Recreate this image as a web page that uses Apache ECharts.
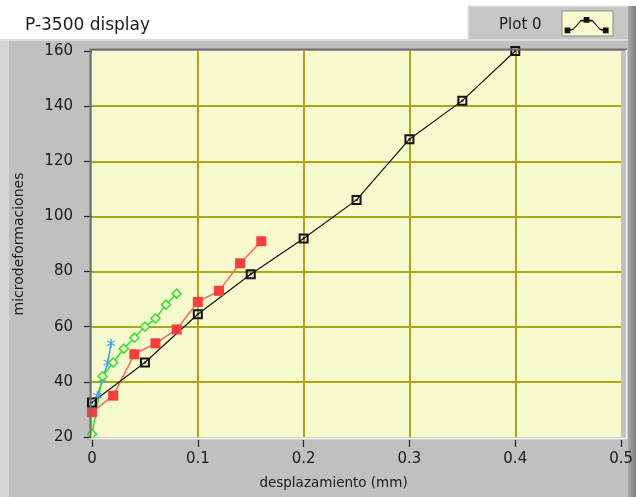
<!DOCTYPE html>
<html>
<head>
<meta charset="utf-8">
<script src="https://cdn.jsdelivr.net/npm/echarts@6/dist/echarts.min.js"></script>
<style>
  html, body { margin: 0; padding: 0; background: #ffffff; }
  #chart { width: 636px; height: 497px; }
</style>
</head>
<body>
<div id="chart"></div>
<script>
// Strain gauge readings (microdeformaciones) against displacement (mm)
const xTicks = [0, 0.1, 0.2, 0.3, 0.4, 0.5];
const yTicks = [20, 40, 60, 80, 100, 120, 140, 160];

const plot0X = [0, 0.05, 0.1, 0.15, 0.2, 0.25, 0.3, 0.35, 0.4];
const plot0Y = [32.5, 47, 64.5, 79, 92, 106, 128, 142, 160];

const plot1X = [0, 0.02, 0.04, 0.06, 0.08, 0.1, 0.12, 0.14, 0.16];
const plot1Y = [29, 35, 50, 54, 59, 69, 73, 83, 91];

const plot2X = [0, 0.01, 0.02, 0.03, 0.04, 0.05, 0.06, 0.07, 0.08];
const plot2Y = [21, 42, 47, 52, 56, 60, 63, 68, 72];

const plot3X = [0, 0.005, 0.01, 0.015, 0.018];
const plot3Y = [29, 35, 41, 47, 54];

const pairs = (xs, ys) => xs.map((x, i) => [x, ys[i]]);

const PLOT_BG = '#f6facc';
const GRID_COLOR = '#a9a617';
const FONT = 'DejaVu Sans';

// marker shapes
const squareDot = 'path://M0,0H10V10H0ZM2,2V8H8V2ZM4,4H6V6H4Z';
const asterisk = 'path://M4.4,0H5.6V3.6L8.7,1.8L9.3,2.8L6.2,4.6V5.4L9.3,7.2L8.7,8.2L5.6,6.4V10H4.4V6.4L1.3,8.2L0.7,7.2L3.8,5.4V4.6L0.7,2.8L1.3,1.8L4.4,3.6Z';
const legendIcon = 'path://M2,17L10,15L18,6L30,6L38,15L46,17L46,18.6L38,16.6L30,7.6L18,7.6L10,16.6L2,18.6Z' +
  'M1,14H7V20H1ZM21,3H27V9H21ZM41,14H47V20H41Z';

const shadow = () => new echarts.graphic.LinearGradient(0, 0, 1, 0, [
  { offset: 0, color: '#a8a8a8' }, { offset: 1, color: '#7e7e7e' }]);

const chart = echarts.init(document.getElementById('chart'), null, { renderer: 'canvas' });

const option = {
  animation: false,
  backgroundColor: '#ffffff',
  textStyle: { fontFamily: FONT },
  graphic: {
    elements: [
      // panel frame
      { type: 'rect', z: -10, shape: { x: 0, y: 39, width: 636, height: 458 }, style: { fill: '#c0c0c0' } },
      { type: 'rect', z: -9, shape: { x: 0, y: 39, width: 9, height: 458 }, style: { fill: '#d5d5d5' } },
      { type: 'rect', z: -9, shape: { x: 0, y: 39, width: 636, height: 2 }, style: { fill: '#dcdcdc' } },
      { type: 'rect', z: -9, shape: { x: 628, y: 39, width: 8, height: 458 }, style: { fill: shadow() } },
      // legend box
      { type: 'rect', z: -9, shape: { x: 468, y: 6, width: 160, height: 33 }, style: { fill: '#c6c6c6' } },
      { type: 'polyline', z: -8, shape: { points: [[468, 39], [468, 6], [628, 6]] }, style: { stroke: '#e6e6e6', lineWidth: 1.5 } },
      { type: 'rect', z: -8, shape: { x: 628, y: 6, width: 8, height: 33 }, style: { fill: shadow() } },
      { type: 'rect', z: -7, shape: { x: 562, y: 11, width: 51, height: 25 },
        style: { fill: PLOT_BG, stroke: '#8c8c8c', lineWidth: 1 } },
      // sunken plot border
      { type: 'polyline', z: 50, shape: { points: [[90.5, 438], [90.5, 49.5], [627, 49.5]] }, style: { stroke: '#6e6e6e', lineWidth: 2 } },
      { type: 'polyline', z: 50, shape: { points: [[91, 438.5], [626.5, 438.5], [626.5, 50]] }, style: { stroke: '#f2f2f2', lineWidth: 1.5 } }
    ]
  },
  title: {
    text: 'P-3500 display',
    left: 20, top: 12,
    textStyle: { fontFamily: FONT, fontSize: 17, fontWeight: 'normal', color: '#1a1a1a' }
  },
  legend: {
    data: ['Plot 0'],
    left: 494, top: 12,
    align: 'right',
    itemWidth: 44, itemHeight: 21,
    icon: legendIcon,
    selectedMode: false,
    textStyle: { fontFamily: FONT, fontSize: 15, color: '#1a1a1a', padding: [0, 18, 0, 0] }
  },
  grid: {
    left: 92, right: 11, top: 51, bottom: 60,
    show: true, backgroundColor: PLOT_BG, borderWidth: 0
  },
  xAxis: {
    type: 'value',
    min: 0, max: 0.5, interval: 0.1,
    offset: 3,
    name: 'desplazamiento (mm)',
    nameLocation: 'middle', nameGap: 36,
    nameTextStyle: { fontFamily: FONT, fontSize: 13.5, color: '#1a1a1a', padding: [0, 46, 0, 0] },
    axisLine: { show: false },
    axisTick: { show: true, length: 7, lineStyle: { color: '#222', width: 1.2 } },
    axisLabel: {
      margin: 12, fontFamily: FONT, fontSize: 15, color: '#1a1a1a',
      formatter: v => (Math.round(v * 10) / 10).toString()
    },
    splitLine: { show: true, showMinLine: false, showMaxLine: false, lineStyle: { color: GRID_COLOR, width: 2 } }
  },
  yAxis: {
    type: 'value',
    min: 20, max: 160, interval: 20,
    offset: 4,
    name: 'microdeformaciones',
    nameLocation: 'middle', nameGap: 62, nameRotate: 90,
    nameTextStyle: { fontFamily: FONT, fontSize: 14, color: '#1a1a1a' },
    axisLine: { show: false },
    axisTick: { show: true, length: 8, lineStyle: { color: '#222', width: 1.2 } },
    axisLabel: { margin: 15, fontFamily: FONT, fontSize: 15, color: '#1a1a1a' },
    splitLine: { show: true, showMinLine: false, showMaxLine: false, lineStyle: { color: GRID_COLOR, width: 2 } }
  },
  series: [
    {
      name: 'Plot 3', type: 'line', data: pairs(plot3X, plot3Y),
      symbol: asterisk, symbolSize: 9,
      lineStyle: { color: '#3ea2f5', width: 1.5 },
      itemStyle: { color: '#3ea2f5' }
    },
    {
      name: 'Plot 2', type: 'line', data: pairs(plot2X, plot2Y),
      symbol: 'diamond', symbolSize: 9,
      lineStyle: { color: '#2fe02f', width: 1.5 },
      itemStyle: { color: PLOT_BG, borderColor: '#2fe02f', borderWidth: 1.5 }
    },
    {
      name: 'Plot 1', type: 'line', data: pairs(plot1X, plot1Y),
      symbol: 'rect', symbolSize: 10,
      lineStyle: { color: '#ff6464', width: 1.5 },
      itemStyle: { color: '#ff3c3c' }
    },
    {
      name: 'Plot 0', type: 'line', data: pairs(plot0X, plot0Y),
      symbol: squareDot, symbolSize: 10,
      lineStyle: { color: '#111111', width: 1.2 },
      itemStyle: { color: '#111111' }
    }
  ]
};

chart.setOption(option);
</script>
</body>
</html>
